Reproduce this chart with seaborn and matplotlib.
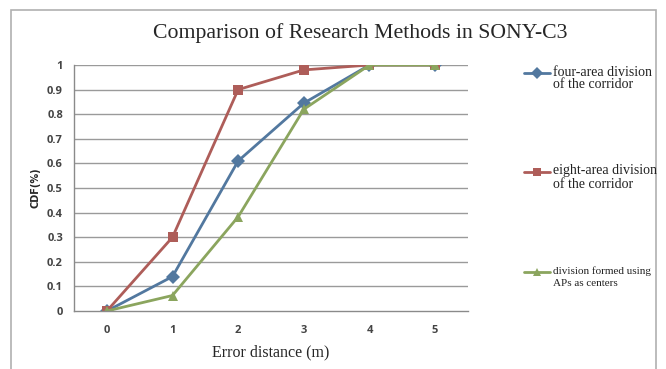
import matplotlib
matplotlib.use("Agg")
import matplotlib.pyplot as plt
import seaborn as sns
import pandas as pd
import numpy as np
from matplotlib.lines import Line2D
from matplotlib.patches import Rectangle

distance = [0, 1, 2, 3, 4, 5]
four_area = [0.0, 0.14, 0.61, 0.845, 1.0, 1.0]
eight_area = [0.0, 0.30, 0.90, 0.98, 1.0, 1.0]
ap_centers = [0.0, 0.063, 0.383, 0.82, 1.0, 1.0]
series_names = ["four-area division\nof the corridor",
                "eight-area division\nof the corridor",
                "division formed using\nAPs as centers"]
colors = ["#52789F", "#AE5D59", "#8BA55E"]
markers = ["D", "s", "^"]
yticks = [0, 0.1, 0.2, 0.3, 0.4, 0.5, 0.6, 0.7, 0.8, 0.9, 1]
ytick_labels = ["0", "0.1", "0.2", "0.3", "0.4", "0.5", "0.6", "0.7", "0.8", "0.9", "1"]

df = pd.DataFrame({
    "x": distance * 3,
    "y": four_area + eight_area + ap_centers,
    "series": [series_names[0]] * 6 + [series_names[1]] * 6 + [series_names[2]] * 6,
})

sns.set_style("white")
fig = plt.figure(figsize=(6.66, 3.69), dpi=100)
ax = fig.add_axes([74/666, 1 - 311/369, 394/666, 246/369])

for ytk in yticks[1:]:
    ax.axhline(ytk, color="#9a9a9a", lw=1.0, zorder=0)

sns.lineplot(data=df, x="x", y="y", hue="series", style="series",
             palette=colors, markers=markers, dashes=False, lw=2.0,
             markersize=7, markeredgewidth=0, ax=ax, legend=False, sort=False)

ax.set_xlim(-0.5, 5.5)
ax.set_ylim(0, 1.0)
ax.set_yticks(yticks)
ax.set_yticklabels(ytick_labels)
ax.set_xticks(distance)
ax.set_xticklabels([str(d) for d in distance])
ax.set_xticks(np.arange(-0.5, 6.0, 1.0), minor=True)
ax.tick_params(axis="x", which="major", length=0, pad=10, labelsize=8, colors="#444444")
ax.tick_params(axis="x", which="minor", length=4, width=1, color="#8a8a8a", direction="out")
ax.tick_params(axis="y", which="major", length=4, width=1, color="#8a8a8a", direction="out",
               labelsize=8, labelcolor="#444444", pad=4)
for lab in ax.get_xticklabels() + ax.get_yticklabels():
    lab.set_fontweight("bold")
    lab.set_family("Open Sans")
for s in ["top", "right"]:
    ax.spines[s].set_visible(False)
for s in ["left", "bottom"]:
    ax.spines[s].set_color("#8a8a8a")
    ax.spines[s].set_linewidth(1.0)

ax.set_xlabel("Error distance (m)", family="Liberation Serif", fontsize=11.5, labelpad=6)
ax.set_ylabel("CDF(%)", fontsize=7, fontweight="bold")
ax.yaxis.set_label_coords(-0.085, 0.5)

fig.text(360/666, 1 - 33/369, "Comparison of Research Methods in SONY-C3",
         family="Liberation Serif", fontsize=15.7, ha="center", va="center")

# legend entries (handle y, line-1 y, line-2 y)
leg_rows = [(73, 72, 84), (172, 170, 184), (272, 271, 283)]
leg_fs = [10, 10, 8]
for i in range(3):
    hy, y1, y2 = leg_rows[i]
    hy = 1 - hy / 369
    fig.add_artist(Line2D([524/666, 550/666], [hy, hy], transform=fig.transFigure,
                          color=colors[i], lw=2.0))
    fig.add_artist(Line2D([537/666], [hy], transform=fig.transFigure, color=colors[i],
                          marker=markers[i], markersize=6, markeredgewidth=0, lw=0))
    l1, l2 = series_names[i].split("\n")
    fig.text(553/666, 1 - y1 / 369, l1, family="Liberation Serif", fontsize=leg_fs[i],
             ha="left", va="center", color="#222222")
    fig.text(553/666, 1 - y2 / 369, l2, family="Liberation Serif", fontsize=leg_fs[i],
             ha="left", va="center", color="#222222")

# outer frame
fig.add_artist(Rectangle((11/666, -0.05), (656-11)/666, 1.05 - 10/369,
                         transform=fig.transFigure, fill=False, ec="#b0b0b0", lw=1.2))

fig.savefig("out.png", dpi=100)
